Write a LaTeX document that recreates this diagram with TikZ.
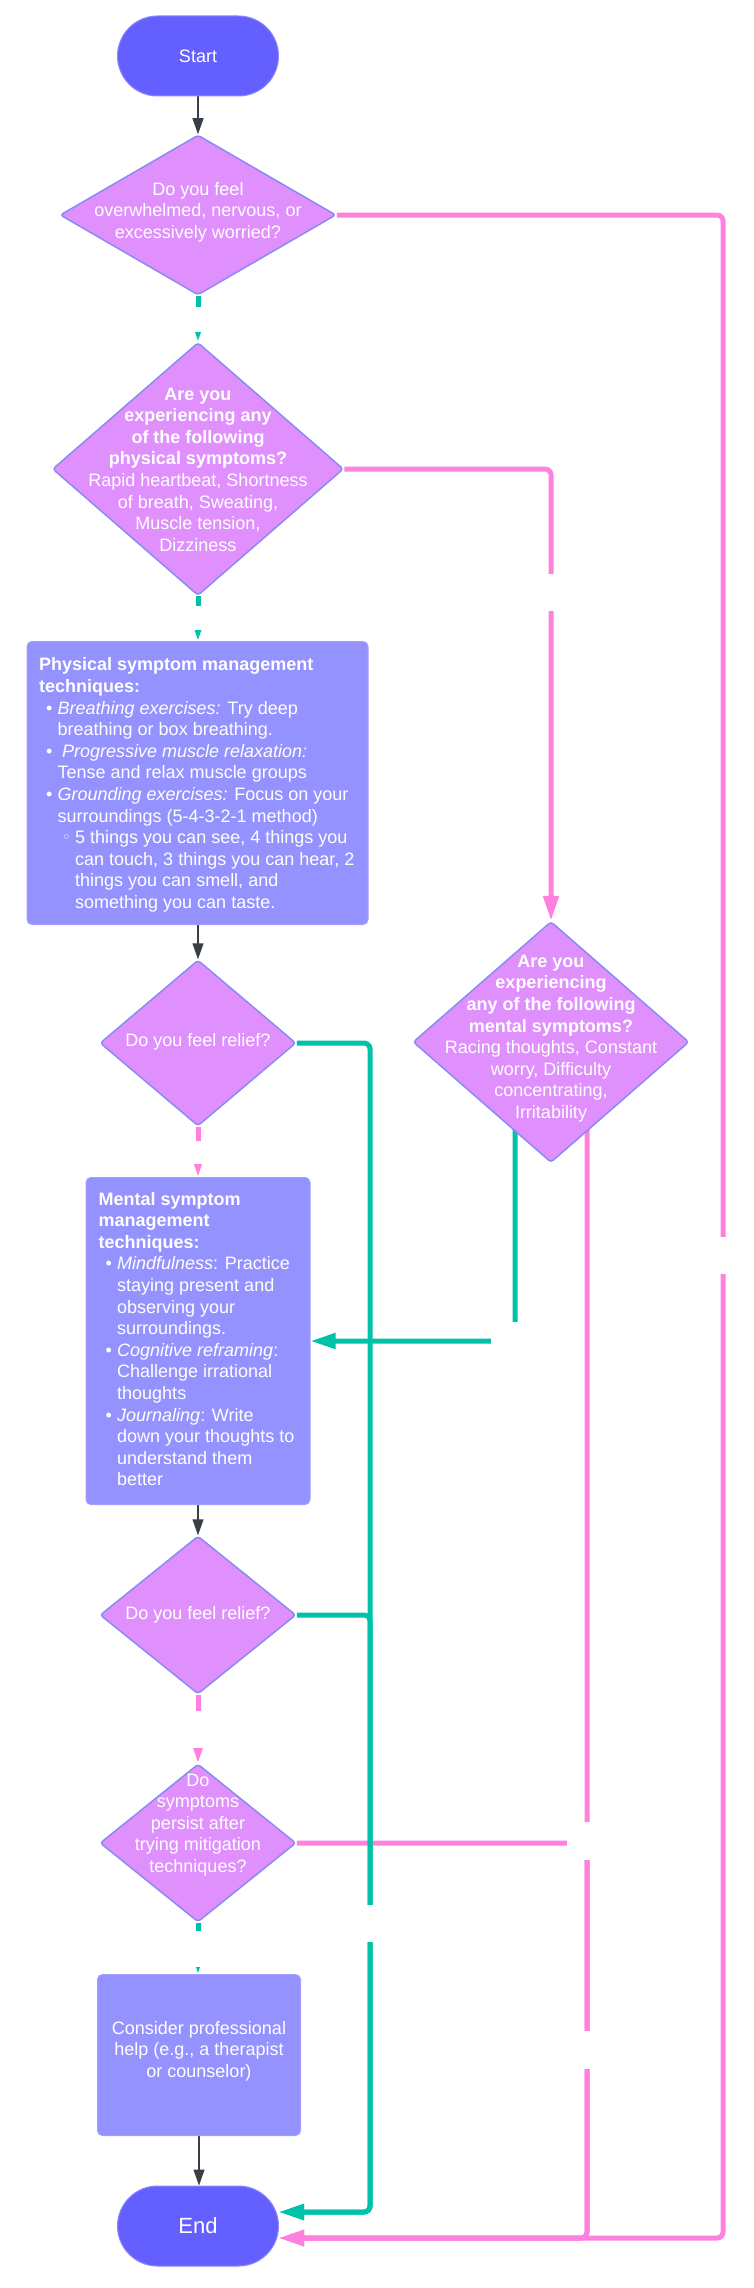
\documentclass[tikz,border=0pt]{standalone}
\usepackage{fontspec}
\setmainfont{Liberation Sans}
\newfontfamily\dejavu{DejaVu Sans}
\usetikzlibrary{shapes.geometric,arrows.meta,calc}
\pgfdeclarelayer{bg}
\pgfsetlayers{bg,main}
\definecolor{termfill}{RGB}{100,95,255}
\definecolor{termline}{RGB}{140,136,255}
\definecolor{decfill}{RGB}{223,144,252}
\definecolor{decline}{RGB}{138,138,245}
\definecolor{boxfill}{RGB}{148,146,255}
\definecolor{boxline}{RGB}{160,158,255}
\definecolor{yesgreen}{RGB}{0,194,168}
\definecolor{nopink}{RGB}{255,128,223}
\definecolor{flowgray}{RGB}{58,63,71}
\begin{document}
\begin{tikzpicture}[x=1pt,y=-1pt,
  font=\fontsize{18}{21.6}\selectfont,
  term/.style={rectangle, rounded corners=40pt, minimum width=161pt, minimum height=80pt,
    fill=termfill, draw=termline, line width=1pt, inner sep=0pt, text=white},
  decision/.style={diamond, fill=decfill, draw=decline, line width=1.5pt,
    rounded corners=3pt, inner sep=0pt},
  labeltext/.style={text=white, align=center, inner sep=0pt},
  bodytext/.style={text=white, align=left, inner sep=0pt, anchor=west},
  procbox/.style={rectangle, rounded corners=5pt, fill=boxfill, draw=boxline,
    line width=1pt, inner sep=0pt},
  yesline/.style={draw=yesgreen, line width=5pt, rounded corners=6pt},
  noline/.style={draw=nopink, line width=5pt, rounded corners=6pt},
  flowtip/.style={-{Triangle[length=25pt,width=15pt]}},
  plainarrow/.style={draw=flowgray, line width=1.2pt, -{Triangle[length=16pt,width=11pt]}},
  gapmask/.style={fill=white, inner sep=0pt, minimum width=30pt}
]
\useasboundingbox (0,0) rectangle (753,2288);

% terminals
\node[term] (start) at (198,56) {Start};
\node[term, font=\fontsize{22}{26}\selectfont] (end) at (198,2226) {End};

% decisions
\node[decision, minimum width=276pt, minimum height=160pt] (d1) at (198,215) {};
\node[labeltext] (d1t) at (198,212) {Do you feel\\overwhelmed, nervous, or\\excessively worried?};

\node[decision, minimum width=291pt, minimum height=253pt] (d2) at (198,469) {};
\node[labeltext] (d2t) at (198,469.5) {\textbf{Are you}\\\textbf{experiencing any}\\\textbf{of the following}\\\textbf{physical symptoms?}\\Rapid heartbeat, Shortness\\of breath, Sweating,\\Muscle tension,\\Dizziness};

\node[decision, minimum width=196pt, minimum height=166pt] (d3) at (198,1043) {};
\node[labeltext] (d3t) at (198,1042) {Do you feel relief?};

\node[decision, minimum width=276pt, minimum height=241pt] (d4) at (551,1042) {};
\node[labeltext] (d4t) at (551,1038.5) {\textbf{Are you}\\\textbf{experiencing}\\\textbf{any of the following}\\\textbf{mental symptoms?}\\Racing thoughts, Constant\\worry, Difficulty\\concentrating,\\Irritability};

\node[decision, minimum width=196pt, minimum height=158pt] (d5) at (198,1615) {};
\node[labeltext] (d5t) at (198,1615) {Do you feel relief?};

\node[decision, minimum width=196pt, minimum height=158pt] (d6) at (198,1843) {};
\node[labeltext] (d6t) at (198,1825) {Do\\symptoms\\persist after\\trying mitigation\\techniques?};

% process boxes
\node[procbox, minimum width=341pt, minimum height=283pt] (phys) at (197.5,783) {};
\node[bodytext] (physT) at (39,785) {%
\textbf{Physical symptom management}\\
\textbf{techniques:}\\
\hspace*{7pt}\makebox[11.5pt][l]{•}\textit{Breathing exercises:} Try deep\\
\hspace*{18.5pt}breathing or box breathing.\\
\hspace*{7pt}\makebox[16pt][l]{•}\textit{Progressive muscle relaxation:}\\
\hspace*{18.5pt}Tense and relax muscle groups\\
\hspace*{7pt}\makebox[11.5pt][l]{•}\textit{Grounding exercises:} Focus on your\\
\hspace*{18.5pt}surroundings (5-4-3-2-1 method)\\
\hspace*{23pt}\makebox[13pt][l]{\raisebox{1pt}{\dejavu\fontsize{15}{16}\selectfont ◦}}5 things you can see, 4 things you\\
\hspace*{36pt}can touch, 3 things you can hear, 2\\
\hspace*{36pt}things you can smell, and\\
\hspace*{36pt}something you can taste.};

\node[procbox, minimum width=224pt, minimum height=327pt] (mental) at (198,1341) {};
\node[bodytext] (mentalT) at (98.5,1339) {%
\textbf{Mental symptom}\\
\textbf{management}\\
\textbf{techniques:}\\
\hspace*{7pt}\makebox[11.5pt][l]{•}\textit{Mindfulness}: Practice\\
\hspace*{18.5pt}staying present and\\
\hspace*{18.5pt}observing your\\
\hspace*{18.5pt}surroundings.\\
\hspace*{7pt}\makebox[11.5pt][l]{•}\textit{Cognitive reframing}:\\
\hspace*{18.5pt}Challenge irrational\\
\hspace*{18.5pt}thoughts\\
\hspace*{7pt}\makebox[11.5pt][l]{•}\textit{Journaling}: Write\\
\hspace*{18.5pt}down your thoughts to\\
\hspace*{18.5pt}understand them\\
\hspace*{18.5pt}better};

\node[procbox, minimum width=203pt, minimum height=161pt] (cons) at (199,2055) {};
\node[labeltext] (consT) at (199,2051) {Consider professional\\help (e.g., a therapist\\or counselor)};

% helper coordinates
\coordinate (endG) at ($(end.east)+(0,-14)$);
\coordinate (endP) at ($(end.east)+(0,12)$);
\coordinate (pinkR) at (723,2238);
\coordinate (pinkM) at (587,2238);
\coordinate (greenM) at (370,2212);

\begin{pgfonlayer}{bg}
% plain arrows
\draw[plainarrow] (start.south) -- (d1.north);
\draw[plainarrow] (phys.south -| d3.north) -- (d3.north);
\draw[plainarrow] (mental.south) -- (d5.north);
\draw[plainarrow] (cons.south) -- (cons.south |- end.north);
% "no" connectors
\draw[noline, flowtip] (d1.east) -| (pinkR) -- (endP);
\draw[noline, flowtip] (d2.east) -| (d4.north);
\draw[noline, flowtip] ($(d4.center)+(36,0)$) -- (pinkM) -- (endP);
\draw[noline, flowtip] (d6.east) -| (pinkM) -- (endP);
\draw[noline, flowtip] (d3.south) -- (mental.north);
\draw[noline, flowtip] (d5.south) -- (d6.north);
% "yes" connectors
\draw[yesline, flowtip] (d1.south) -- (d2.north);
\draw[yesline, flowtip] (d2.south) -- (d2.south |- phys.north);
\draw[yesline, flowtip] (d3.east) -| (greenM) -- (endG);
\draw[yesline, flowtip] (d5.east) -| (greenM) -- (endG);
\draw[yesline, flowtip] ($(d4.center)+(-36,0)$) |- (mental.east);
\draw[yesline, flowtip] (d6.south) -- (d6.south |- cons.north);
% empty label backgrounds on the connectors
\node[gapmask, minimum height=25pt] (g1) at (198,319.5) {};
\node[gapmask, minimum height=24pt] (g2) at (198,618) {};
\node[gapmask, minimum height=37pt] (g3) at (551,592.5) {};
\node[gapmask, minimum height=37pt] (g4) at (723,1255.5) {};
\node[gapmask, minimum height=23pt] (g5) at (198,1152.5) {};
\node[gapmask, minimum width=48pt, minimum height=38pt] (g6) at (515,1341) {};
\node[gapmask, minimum height=37pt] (g7) at (198,1729.5) {};
\node[gapmask, minimum height=36pt] (g8) at (198,1949) {};
\node[gapmask, minimum width=40pt, minimum height=38pt] (g9) at (587,1841) {};
\node[gapmask, minimum height=38pt] (g10) at (587,2050) {};
\node[gapmask, minimum height=37pt] (g11) at (370,1923.5) {};
\end{pgfonlayer}
\end{tikzpicture}
\end{document}
